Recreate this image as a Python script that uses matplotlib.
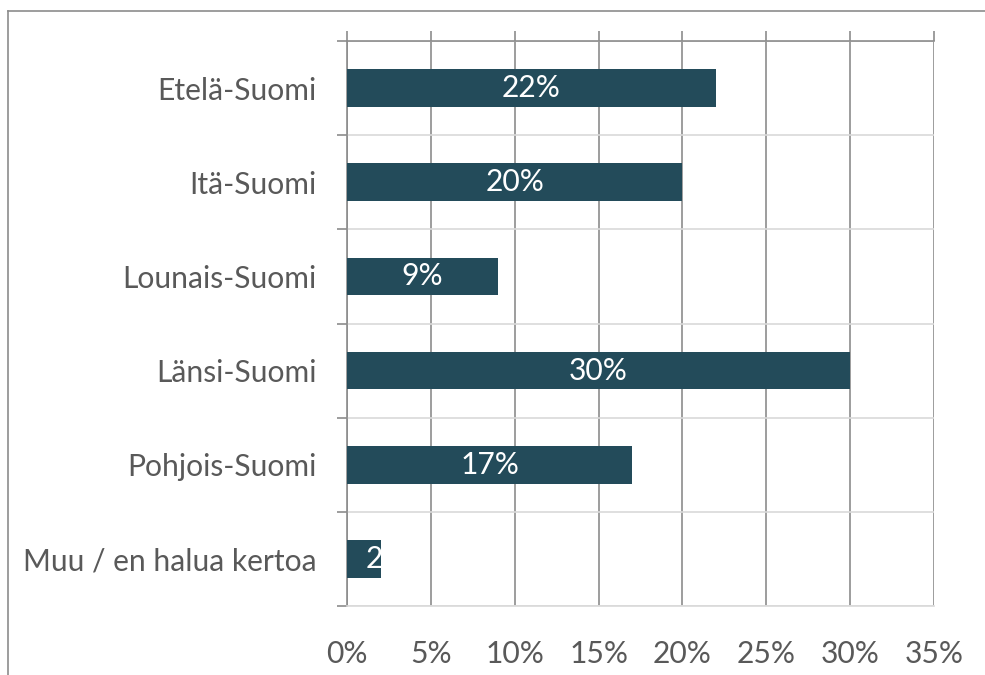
import matplotlib.pyplot as plt
from matplotlib.lines import Line2D
from matplotlib.ticker import FuncFormatter, FixedLocator

# data
regions = ['Etelä-Suomi', 'Itä-Suomi', 'Lounais-Suomi', 'Länsi-Suomi',
           'Pohjois-Suomi', 'Muu / en halua kertoa']
shares = [0.22, 0.20, 0.09, 0.30, 0.17, 0.02]
xticks = [0, 0.05, 0.10, 0.15, 0.20, 0.25, 0.30, 0.35]

barColor = '#234B5A'
textColor = '#595959'
gridColor = '#8C8C8C'
lightGrid = '#D9D9D9'
fs = 21.6

plt.rcParams['font.family'] = ['Lato', 'DejaVu Sans']

fig = plt.figure(figsize=(9.85, 6.75), dpi=100)
ax = fig.add_axes([347/985, 1-606/675, (934-347)/985, (606-41)/675])

ypos = list(range(len(regions)))
bars = ax.barh(ypos, shares, height=0.4, color=barColor, zorder=3)

# value labels inside the bars (too-short bars cut the label off)
for bar, v in zip(bars, shares):
    yc = bar.get_y() + bar.get_height() / 2
    label = '%d%%' % round(v * 100)
    if v >= 0.05:
        t = ax.text(v / 2, yc, label, color='white', ha='center', va='center',
                    fontsize=fs, zorder=4)
    else:
        t = ax.annotate(label, (v, yc), xytext=(-11, 0), textcoords='offset points',
                        color='white', ha='left', va='center', fontsize=fs, zorder=4)
    t.set_clip_path(bar)

ax.set_xlim(0, 0.35)
ax.set_ylim(len(regions) - 0.5, -0.5)

# x axis: ticks drawn at top, labels at bottom
ax.xaxis.set_major_locator(FixedLocator(xticks))
ax.xaxis.set_major_formatter(FuncFormatter(lambda v, p: '%d%%' % round(v * 100)))
ax.tick_params(axis='x', which='major', bottom=False, top=True, labelbottom=True,
               labeltop=False, length=7.2, width=1.2, color=gridColor,
               labelsize=fs, labelcolor=textColor, pad=17)
ax.grid(axis='x', color=gridColor, linewidth=1.2, zorder=1)

# y axis: labels at centres, ticks at category boundaries
ax.set_yticks(ypos)
ax.set_yticklabels(regions)
ax.yaxis.set_minor_locator(FixedLocator([i - 0.5 for i in range(len(regions) + 1)]))
ax.tick_params(axis='y', which='major', length=0, labelsize=fs,
               labelcolor=textColor, pad=22)
ax.tick_params(axis='y', which='minor', length=7.2, width=1.2, color=gridColor)
ax.grid(axis='y', which='minor', color=lightGrid, linewidth=1.2, zorder=1)

for side in ['top', 'left']:
    ax.spines[side].set_color(gridColor)
    ax.spines[side].set_linewidth(1.2)
ax.spines['right'].set_visible(False)
ax.spines['bottom'].set_color(lightGrid)
ax.spines['bottom'].set_linewidth(1.2)
ax.set_axisbelow(True)

# chart area border (left and top visible)
fig.add_artist(Line2D([8/985, 8/985], [0, 1-11/675], color='#8C8C8C', linewidth=1.2))
fig.add_artist(Line2D([8/985, 1], [1-11/675, 1-11/675], color='#8C8C8C', linewidth=1.2))

fig.savefig('out.png', dpi=100)
